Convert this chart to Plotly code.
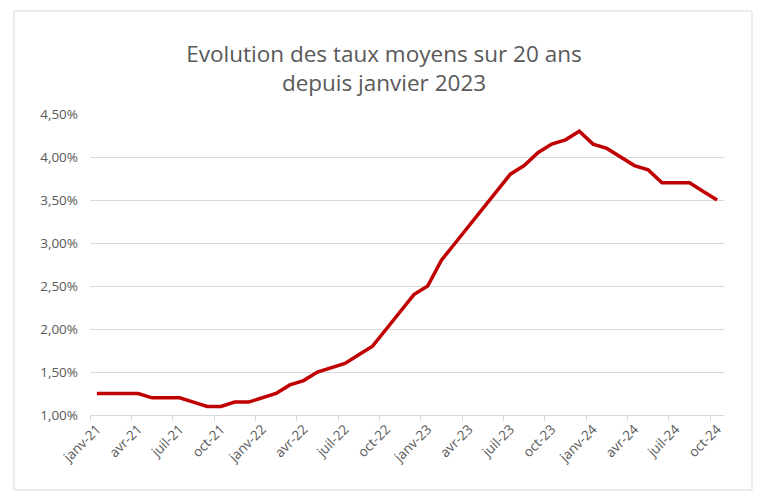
import plotly.graph_objects as go

months = ["janv", "févr", "mars", "avr", "mai", "juin", "juil", "août", "sept", "oct", "nov", "déc"]
categories = [f"{m}-{y}" for y in ["21", "22", "23", "24"] for m in months][:46]

rates_pct = [
    1.25, 1.25, 1.25, 1.25, 1.20, 1.20, 1.20, 1.15, 1.10, 1.10, 1.15, 1.15,
    1.20, 1.25, 1.35, 1.40, 1.50, 1.55, 1.60, 1.70, 1.80, 2.00, 2.20, 2.40,
    2.50, 2.80, 3.00, 3.20, 3.40, 3.60, 3.80, 3.90, 4.05, 4.15, 4.20, 4.30,
    4.15, 4.10, 4.00, 3.90, 3.85, 3.70, 3.70, 3.70, 3.60, 3.50,
]

y_ticks_pct = [1.0, 1.5, 2.0, 2.5, 3.0, 3.5, 4.0, 4.5]

title_text = "Evolution des taux moyens sur 20 ans<br>depuis janvier 2023"

idx = list(range(len(categories)))
label_idx = idx[::3]
label_text = [categories[i] for i in label_idx]

fig = go.Figure()
fig.add_trace(go.Scatter(
    x=idx,
    y=[v / 100 for v in rates_pct],
    mode="lines",
    line=dict(color="#C00000", width=3.5),
    hoverinfo="skip",
))

L, R, T, B = 90, 44, 114, 83
W, H = 768, 498
pw, ph = W - L - R, H - T - B

fig.update_layout(
    width=W, height=H,
    margin=dict(l=L, r=R, t=T, b=B),
    paper_bgcolor="white",
    plot_bgcolor="white",
    separators=", ",
    showlegend=False,
    font=dict(family="Open Sans", color="#595959"),
    title=dict(
        text=title_text,
        x=0.5, xanchor="center",
        y=1 - 62 / H, yanchor="middle",
        font=dict(family="Open Sans", size=22.5, color="#595959"),
    ),
    shapes=[dict(
        type="rect", xref="paper", yref="paper",
        x0=(14 - L) / pw, x1=(752 - L) / pw,
        y0=(ph - (490 - T)) / ph, y1=(ph - (11 - T)) / ph,
        line=dict(color="#d9d9d9", width=1),
        fillcolor="rgba(0,0,0,0)",
        layer="below",
    )],
)

fig.update_xaxes(
    range=[-0.5, len(categories) - 0.5],
    tickmode="array",
    tickvals=label_idx,
    ticktext=label_text,
    tickangle=-45,
    ticks="",
    showgrid=False,
    showline=True,
    linecolor="#d9d9d9",
    linewidth=1,
    tickfont=dict(size=13.5, color="#595959"),
    minor=dict(
        tickmode="array",
        tickvals=[i - 0.5 for i in label_idx],
        ticks="outside",
        ticklen=5,
        tickcolor="#d9d9d9",
        showgrid=False,
    ),
    zeroline=False,
)

fig.update_yaxes(
    range=[y_ticks_pct[0] / 100, y_ticks_pct[-1] / 100],
    tickmode="array",
    tickvals=[v / 100 for v in y_ticks_pct],
    tickformat=".2%",
    showgrid=True,
    gridcolor="#d9d9d9",
    gridwidth=1,
    showline=False,
    zeroline=False,
    ticks="",
    ticklabelstandoff=11,
    tickfont=dict(size=13.5, color="#595959"),
)

fig.write_html(
    "out.html",
    config={"displayModeBar": False},
    post_script="document.body.style.margin='0';document.body.style.padding='0';",
)
